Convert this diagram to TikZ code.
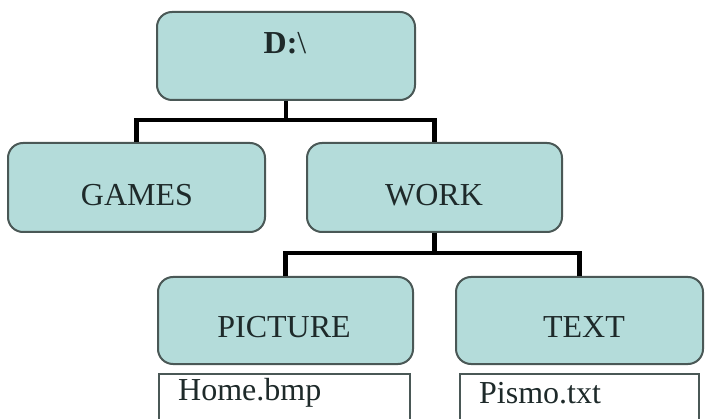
\documentclass[tikz,border=0pt]{standalone}
\usepackage{fontspec}
\setmainfont{Liberation Serif}
\definecolor{boxfill}{HTML}{B4DCDA}
\definecolor{boxedge}{HTML}{4A5856}
\definecolor{txt}{HTML}{1E2A2A}
\tikzset{
  folder/.style={draw=boxedge, line width=2pt, fill=boxfill, rounded corners=15pt, inner sep=0pt},
  filebox/.style={draw=boxedge, line width=1.5pt, fill=white, inner sep=0pt, anchor=north west},
  lbl/.style={font=\fontsize{32}{32}\selectfont, text=txt, inner sep=0pt},
  flbl/.style={font=\fontsize{32}{32}\selectfont, text=txt, inner sep=0pt, anchor=west},
  conn/.style={draw=black, line width=4.5pt},
}
\begin{document}
\begin{tikzpicture}[x=1pt,y=-1pt]
\useasboundingbox (0,0) rectangle (706,419);
\clip (0,0) rectangle (706,419);
\fill[white] (0,0) rectangle (706,419);
% folder boxes
\node[folder, minimum width=258pt, minimum height=88pt] (d) at (286,56) {};
\node[folder, minimum width=257pt, minimum height=89pt] (games) at (136.5,187.5) {};
\node[folder, minimum width=255pt, minimum height=89pt] (work) at (434.5,187.5) {};
\node[folder, minimum width=255pt, minimum height=87pt] (picture) at (285.5,320.5) {};
\node[folder, minimum width=247pt, minimum height=87pt] (text) at (579.5,320.5) {};
% file boxes
\node[filebox, minimum width=251pt, minimum height=80pt] (home) at (158,373) {};
\node[filebox, minimum width=239pt, minimum height=80pt] (pismo) at (459,373) {};
% labels
\node[lbl] (dl) at (285,43) {\textbf{D:}\textbackslash};
\node[lbl] (gl) at (137,195) {GAMES};
\node[lbl] (wl) at (434,195) {WORK};
\node[lbl] (pl) at (284,327) {PICTURE};
\node[lbl] (tl) at (584,327) {TEXT};
\node[flbl] (hl) at (178,393) {Home.bmp};
\node[flbl] (sl) at (479,393) {Pismo.txt};
% connectors
\coordinate (j1) at (286,120);
\coordinate (j2) at (434.5,253);
\draw[conn] (d.south) -- (j1);
\draw[conn] (j1) -| (games.north);
\draw[conn] (j1) -| (work.north);
\draw[conn] (work.south) -- (j2);
\draw[conn] (j2) -| (picture.north);
\draw[conn] (j2) -| (text.north);
\end{tikzpicture}
\end{document}
